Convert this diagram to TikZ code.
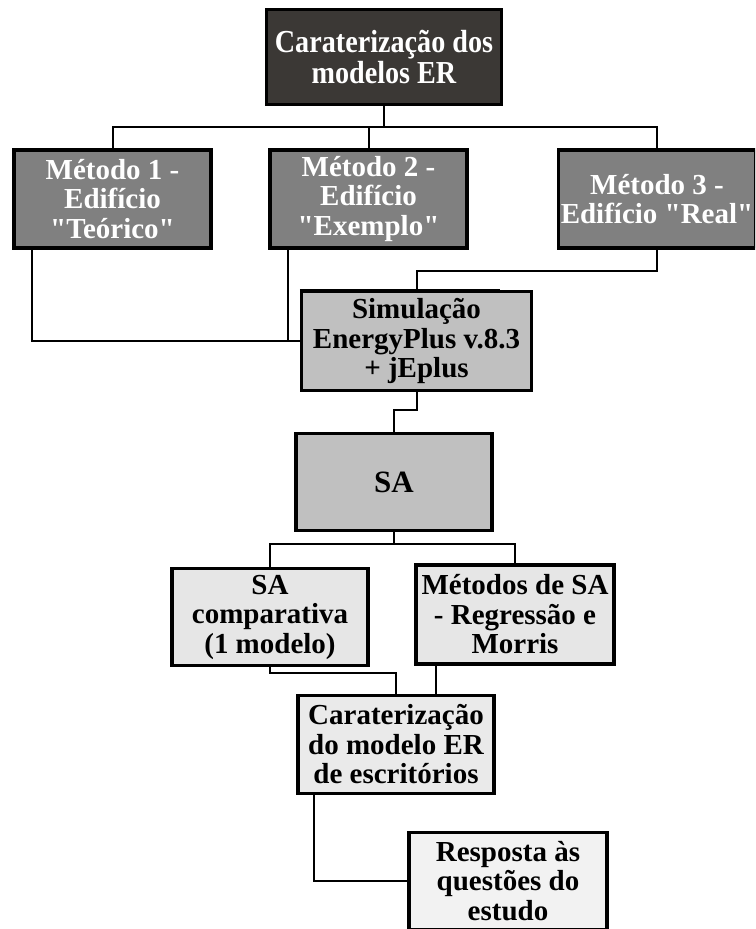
\documentclass[tikz,border=0pt]{standalone}
\usepackage{fontspec}
\setmainfont{Liberation Serif}[Ligatures=TeXOff]
\newfontfamily\condfont{Liberation Serif}[FakeStretch=0.88]
\usetikzlibrary{calc}
\definecolor{darkbox}{HTML}{3B3835}
\definecolor{midbox}{HTML}{808080}
\definecolor{simbox}{HTML}{C0C0C0}
\definecolor{lightbox}{HTML}{E6E6E6}
\definecolor{paleboxa}{HTML}{EAEAEA}
\definecolor{paleboxb}{HTML}{F2F2F2}
\begin{document}
\begin{tikzpicture}[x=1pt,y=-1pt,
  box/.style={draw=black, line width=3.5pt, align=center, inner sep=0pt,
    font=\bfseries\fontsize{29}{29.5}\selectfont},
  upper/.style={box, fill=midbox, text=white, minimum width=197pt, minimum height=98pt},
  lower/.style={box, minimum width=196pt, minimum height=97pt},
  link/.style={draw=black, line width=2pt}]
\useasboundingbox (0,0) rectangle (755,929);
\clip (0,0) rectangle (755,929);

% nodes
\node[box, fill=darkbox, text=white, minimum width=235pt, minimum height=95pt,
  font=\condfont\bfseries\fontsize{32}{31}\selectfont] (top) at (384,57) {Caraterização dos\\modelos ER};
\node[upper] (m1) at (112.5,199) {Método 1 -\\Edifício\\"Teórico"};
\node[upper] (m2) at (368.5,199) {Método 2 -\\Edifício\\"Exemplo"};
\node[upper] (m3) at (657,199) {Método 3 -\\Edifício "Real"};
\node[box, fill=simbox, minimum width=230pt, minimum height=99pt] (sim) at (416.5,341)
  {Simulação\\EnergyPlus v.8.3\\+ jEplus};
\draw[line width=3.5pt] ($(sim.north west)+(0,0.5)$) -- ($(sim.north west)+(200,0.5)$);
\node[box, fill=simbox, minimum width=196pt, minimum height=97pt,
  font=\bfseries\fontsize{31}{31}\selectfont] (sa) at (394,482) {SA};
\node[lower, fill=lightbox] (sacomp) at (270,617) {SA\\comparativa\\(1 modelo)};
\node[lower, fill=lightbox, minimum width=198pt, minimum height=99pt] (metsa) at (515,614.5)
  {Métodos de SA\\- Regressão e\\Morris};
\node[lower, fill=paleboxa, minimum height=98pt] (carat) at (396,744.5)
  {Caraterização\\do modelo ER\\de escritórios};
\node[lower, fill=paleboxb, minimum width=198pt] (resp) at (508,881)
  {Resposta às\\questões do\\estudo};

% connectors
\coordinate (bus) at (0,127);
\draw[link] (top.south) -- (top.south |- bus);
\draw[link] (m1.north) -- (m1.north |- bus) -- (m3.north |- bus) -- (m3.north);
\draw[link] (m2.north) -- (m2.north |- bus);

\coordinate (m1d) at ($(m1.south west)+(20,0)$);
\coordinate (m2d) at ($(m2.south west)+(20,0)$);
\draw[link] (m1d) |- (sim.west);
\draw[link] (m2d) -- (m2d |- sim.west);
\draw[link] (m3.south) -- ++(0,21) -| (sim.north);

\draw[link] (sim.south) -- ++(0,18) -| (sa.north);

\draw[link] (sa.south) -- ++(0,12) coordinate (sab);
\draw[link] (sab) -| (sacomp.north);
\draw[link] (sab) -| (metsa.north);

\draw[link] (sacomp.south) -- ++(0,6) -| (carat.north);
\coordinate (msd) at ($(metsa.south west)+(22,0)$);
\draw[link] (msd) -- (msd |- carat.north);

\coordinate (cd) at ($(carat.south west)+(18,0)$);
\draw[link] (cd) |- (resp.west);
\end{tikzpicture}
\end{document}
